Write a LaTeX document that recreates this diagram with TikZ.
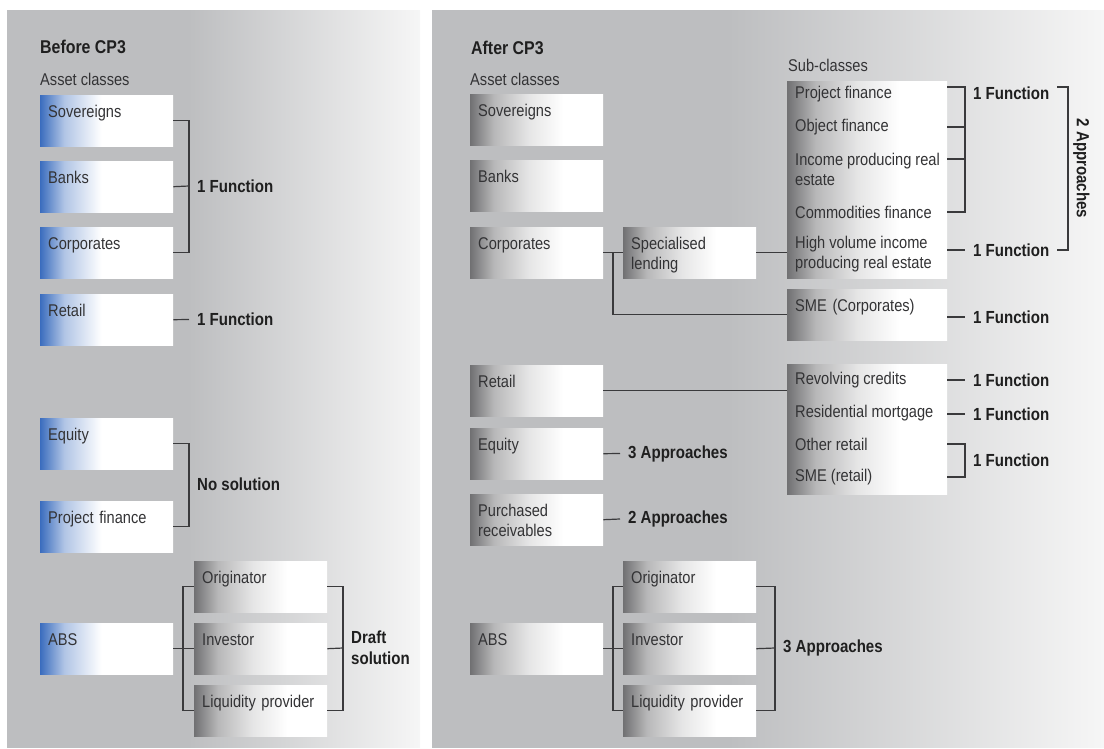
\documentclass[tikz,border=0pt]{standalone}
\usepackage{fontspec}
\setmainfont[FakeStretch=0.86]{Liberation Sans}
\definecolor{panelgray}{HTML}{BDBEC0}
\definecolor{panellight}{HTML}{F6F6F6}
\definecolor{boxblue}{HTML}{3B6DBE}
\definecolor{boxgray}{HTML}{717173}
\definecolor{linegray}{HTML}{3A3A3C}
\definecolor{textgray}{HTML}{333335}
\pgfdeclarehorizontalshading{panelshade}{100bp}{color(0bp)=(panelgray); color(25bp)=(panelgray); color(47bp)=(panelgray); color(75bp)=(panellight); color(100bp)=(panellight)}
\pgfdeclarehorizontalshading{blueshade}{100bp}{color(0bp)=(boxblue); color(25bp)=(boxblue); color(34bp)=(boxblue!40!white); color(48bp)=(white); color(100bp)=(white)}
\pgfdeclarehorizontalshading{greyshade}{100bp}{color(0bp)=(boxgray); color(25bp)=(boxgray); color(34bp)=(boxgray!50!white); color(47bp)=(boxgray!18!white); color(60bp)=(white); color(100bp)=(white)}
\newcommand\classfont{\fontsize{17}{20}\selectfont}
\tikzset{
  boxshape/.style={anchor=north west, inner ysep=0pt, inner xsep=8pt, text width=117pt, align=left, text height=22pt, text depth=29pt, text=textgray, font=\classfont},
  bluebox/.style={boxshape, shading=blueshade},
  greybox/.style={boxshape, shading=greyshade},
  subbox/.style={anchor=north west, inner sep=0pt, minimum width=160pt, shading=greyshade},
  subitem/.style={anchor=west, inner xsep=8pt, inner ysep=0pt, align=left, text=textgray, font=\classfont},
  verdict/.style={anchor=west, inner xsep=8pt, inner ysep=0pt, align=left, text=black!88, font=\fontsize{17.5}{21}\selectfont\bfseries},
  heading/.style={anchor=west, inner sep=0pt, text=black!88, font=\fontsize{18.5}{20}\selectfont\bfseries},
  caption/.style={anchor=west, inner sep=0pt, text=textgray, font=\classfont},
  link/.style={draw=linegray, line width=1.2pt}
}
\begin{document}
\begin{tikzpicture}[x=1pt, y=-1pt]
\useasboundingbox (0,0) rectangle (1104,749);
\shade[shading=panelshade] (7,11) rectangle (420,747);
\shade[shading=panelshade] (432,11) rectangle (1104,747);

\node[heading] (before) at (40,47) {Before CP3};
\node[caption] (bcap) at (40,79) {Asset classes};
\node[bluebox] (bsov) at (40,95) {Sovereigns};
\node[bluebox] (bbanks) at (40,161) {Banks};
\node[bluebox] (bcorp) at (40,227) {Corporates};
\node[bluebox] (bretail) at (40,294) {Retail};
\node[bluebox] (bequity) at (40,418) {Equity};
\node[bluebox] (bproj) at (40,501) {Project finance};
\node[bluebox] (babs) at (40,623) {ABS};
\node[greybox] (borig) at (194,561) {Originator};
\node[greybox] (binv) at (194,623) {Investor};
\node[greybox] (bliq) at (194,685) {Liquidity provider};

\node[verdict] (v1) at (189,186) {1 Function};
\node[verdict] (v2) at (189,319.5) {1 Function};
\node[verdict] (v3) at (189,484) {No solution};
\node[verdict] (v4) at (343,648) {Draft\\solution};
\draw[link] (bsov.east) -| (v1.west |- bcorp.east) -- (bcorp.east);
\draw[link] (bbanks.east) -- (v1.west);
\draw[link] (bretail.east) -- (v2.west);
\draw[link] (bequity.east) -| (v3.west |- bproj.east) -- (bproj.east);
\draw[link] (babs.east) -- (binv.west);
\draw[link] (borig.west) -- ++(-11,0) |- (bliq.west);
\draw[link] (borig.east) -| (v4.west |- bliq.east) -- (bliq.east);
\draw[link] (binv.east) -- (v4.west);

\node[heading] (after) at (471,48) {After CP3};
\node[caption] (acap) at (470,79) {Asset classes};
\node[caption] (subcap) at (788,65) {Sub-classes};
\node[greybox] (asov) at (470,94) {Sovereigns};
\node[greybox] (abanks) at (470,160) {Banks};
\node[greybox] (acorp) at (470,227) {Corporates};
\node[greybox] (aspec) at (623,227) {Specialised\\lending};
\node[greybox] (aretail) at (470,365) {Retail};
\node[greybox] (aequity) at (470,428) {Equity};
\node[greybox] (apurch) at (470,494) {Purchased\\receivables};
\node[greybox] (aabs) at (470,623) {ABS};
\node[greybox] (aorig) at (623,561) {Originator};
\node[greybox] (ainv) at (623,623) {Investor};
\node[greybox] (aliq) at (623,685) {Liquidity provider};
\node[greybox, text width=144pt] (asme) at (787,289) {SME (Corporates)};

\node[subbox, minimum height=197pt] (subsl) at (787,81) {};
\node[subbox, minimum height=130pt] (subret) at (787,364) {};
\node[subitem] (spf) at (787,94) {Project finance};
\node[subitem] (sof) at (787,127) {Object finance};
\node[subitem] (sinc) at (787,169) {Income producing real\\estate};
\node[subitem] (scom) at (787,212) {Commodities finance};
\node[subitem] (shigh) at (787,254) {High volume income\\producing real estate};
\node[subitem] (srev) at (787,380) {Revolving credits};
\node[subitem] (sres) at (787,413) {Residential mortgage};
\node[subitem] (soth) at (787,444) {Other retail};
\node[subitem] (ssmer) at (787,477) {SME (retail)};

\draw[link] (acorp.east) -- (aspec.west);
\draw[link] (aspec.west) ++(-10,0) |- (asme.west);
\draw[link] (aspec.east) -- (aspec.east -| subsl.west);
\draw[link] (aretail.east) -- (aretail.east -| subret.west);
\node[verdict] (vequity) at (620,453.5) {3 Approaches};
\node[verdict] (vpurch) at (620,519) {2 Approaches};
\node[verdict] (vabs) at (775,648) {3 Approaches};
\draw[link] (aequity.east) -- (vequity.west);
\draw[link] (apurch.east) -- (vpurch.west);
\draw[link] (aabs.east) -- (ainv.west);
\draw[link] (aorig.west) -- ++(-10,0) |- (aliq.west);
\draw[link] (aorig.east) -| (vabs.west |- aliq.east) -- (aliq.east);
\draw[link] (ainv.east) -- (vabs.west);

\coordinate (ktop) at (965,87);
\coordinate (kinc) at (965,159);
\coordinate (kapp) at (1068,87);
\node[verdict] (vpf) at (965,93) {1 Function};
\node[verdict] (vhigh) at (965,250) {1 Function};
\node[verdict, rotate=-90, anchor=south, inner sep=5pt] (vtwo) at (1068,168.5) {2 Approaches};
\node[verdict] (vsme) at (965,317) {1 Function};
\node[verdict] (vrev) at (965,380) {1 Function};
\node[verdict] (vres) at (965,414) {1 Function};
\node[verdict] (voth) at (965,460) {1 Function};
\draw[link] (ktop -| subsl.east) -- (ktop) |- (scom -| subsl.east);
\draw[link] (sof -| subsl.east) -- (sof -| ktop);
\draw[link] (kinc -| subsl.east) -- (kinc);
\draw[link] (vhigh.west -| subsl.east) -- (vhigh.west);
\draw[link] (vpf.east |- ktop) -| (kapp |- vhigh.east) -- (vhigh.east);
\draw[link] (vsme.west -| asme.east) -- (vsme.west);
\draw[link] (vrev.west -| subret.east) -- (vrev.west);
\draw[link] (vres.west -| subret.east) -- (vres.west);
\draw[link] (soth -| subret.east) -| (voth.west |- ssmer) -- (ssmer -| subret.east);
\end{tikzpicture}
\end{document}
